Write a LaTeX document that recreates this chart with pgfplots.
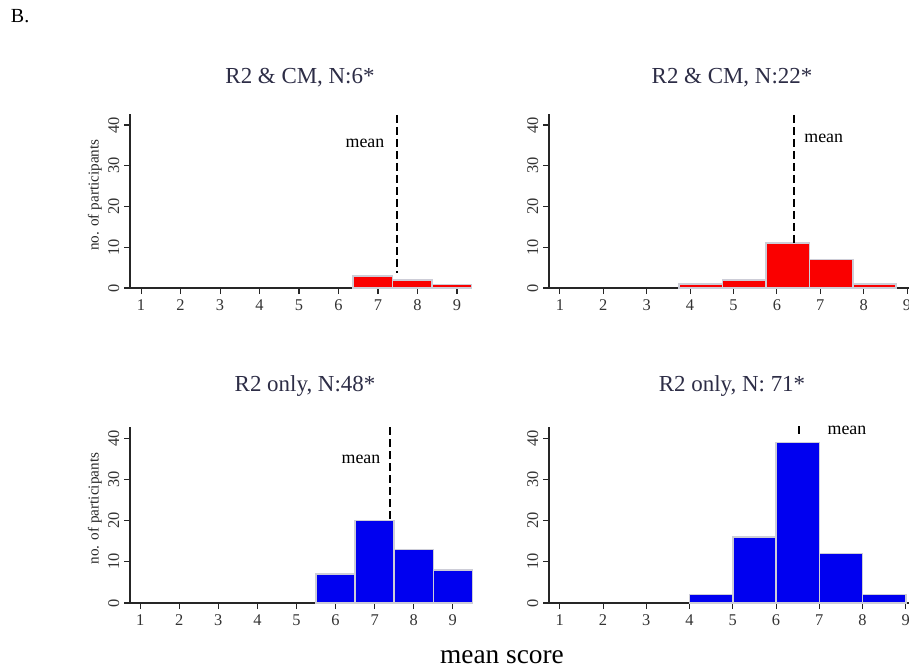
\documentclass[border=0pt]{standalone}
\usepackage{pgfplots}
\pgfplotsset{compat=1.18}
\usepackage{fontspec}
\setmainfont{Liberation Serif}

\definecolor{titlecol}{RGB}{45,45,70}
\definecolor{barred}{RGB}{250,0,0}
\definecolor{barblue}{RGB}{0,0,240}
\definecolor{edge}{RGB}{205,205,215}

% 1 px of the reference = 0.75pt
\pgfplotsset{
  histo/.style={
    scale only axis,
    anchor=south west,
    axis lines*=left,
    axis line style={black!85, line width=0.8pt},
    ymin=0,
    ytick={0,10,20,30,40},
    xtick={1,...,9},
    tick align=outside,
    major tick length=4.5pt,
    tick style={black!85, line width=0.8pt},
    ticklabel style={font=\fontsize{12.3}{14}\selectfont, text=black!80},
    xticklabel style={yshift=-1pt},
    yticklabel style={rotate=90, anchor=south},
    /pgf/number format/assume math mode=true,
    clip=false,
  },
  meanline/.style={black, line width=1.5pt, dash pattern=on 6pt off 3pt},
}
\tikzset{meanlabel/.style={font=\fontsize{13.4}{15}\selectfont}}

\begin{document}
\begin{tikzpicture}
\path[use as bounding box] (0,0) rectangle (681.75pt,-502.5pt);

% top left
\begin{axis}[histo, at={(97.5pt,-216pt)}, width=256.5pt, height=130.5pt,
  xmin=0.72, xmax=9.38, ymax=42.7]
  \addplot[ybar interval, fill=barred, draw=edge, line width=1.1pt]
    coordinates {(6.37,3) (7.37,2) (8.37,0.8) (9.37,0.8)};
  \addplot[meanline] coordinates {(7.48,42.5) (7.48,3.6)};
  \node[meanlabel] at (axis cs:6.67,35.6) {mean};
\end{axis}

% top right
\begin{axis}[histo, at={(411.75pt,-216pt)}, width=270.5pt, height=130.5pt,
  xmin=0.75, xmax=9.06, ymax=42.7]
  \addplot[ybar interval, fill=barred, draw=edge, line width=1.1pt]
    coordinates {(3.75,1) (4.75,2) (5.75,11) (6.75,7) (7.75,1) (8.75,1)};
  \addplot[meanline] coordinates {(6.39,42.5) (6.39,11)};
  \node[meanlabel] at (axis cs:7.08,36.8) {mean};
\end{axis}

% bottom left
\begin{axis}[histo, at={(97.5pt,-452.25pt)}, width=256.5pt, height=132pt,
  xmin=0.74, xmax=9.49, ymax=42.7]
  \addplot[ybar interval, fill=barblue, draw=edge, line width=1.1pt]
    coordinates {(5.5,7) (6.5,20) (7.5,13) (8.5,8) (9.5,8)};
  \addplot[meanline] coordinates {(7.39,42.7) (7.39,20)};
  \node[meanlabel] at (axis cs:6.65,34.9) {mean};
\end{axis}

% bottom right
\begin{axis}[histo, at={(411.75pt,-452.25pt)}, width=270.2pt, height=132pt,
  xmin=0.75, xmax=9.08, ymax=42.7]
  \addplot[ybar interval, fill=barblue, draw=edge, line width=1.1pt]
    coordinates {(4,2) (5,16) (6,39) (7,12) (8,2) (9,2)};
  \addplot[meanline] coordinates {(6.53,42.9) (6.53,40.8)};
  \node[meanlabel] at (axis cs:7.64,41.9) {mean};
\end{axis}

% panel titles
\begin{scope}[every node/.style={anchor=base, text=titlecol, font=\fontsize{17.2}{20}\selectfont}]
  \node at (225pt,-63pt) {R2 \& CM, N:6*};
  \node at (549pt,-63pt) {R2 \& CM, N:22*};
  \node at (228.75pt,-293.25pt) {R2 only, N:48*};
  \node at (549pt,-293.25pt) {R2 only, N: 71*};
\end{scope}

% y labels
\node[rotate=90, font=\fontsize{11.4}{13}\selectfont, text=black!85] at (71.25pt,-146.25pt) {no. of participants};
\node[rotate=90, font=\fontsize{11.4}{13}\selectfont, text=black!85] at (71.25pt,-381.4pt) {no. of participants};

% common x label and panel letter
\node[anchor=base, font=\fontsize{20.5}{24}\selectfont] at (376.5pt,-497.25pt) {mean score};
\node[anchor=base west, inner sep=0pt, font=\fontsize{15}{18}\selectfont] at (8pt,-17pt) {B.};
\end{tikzpicture}
\end{document}
